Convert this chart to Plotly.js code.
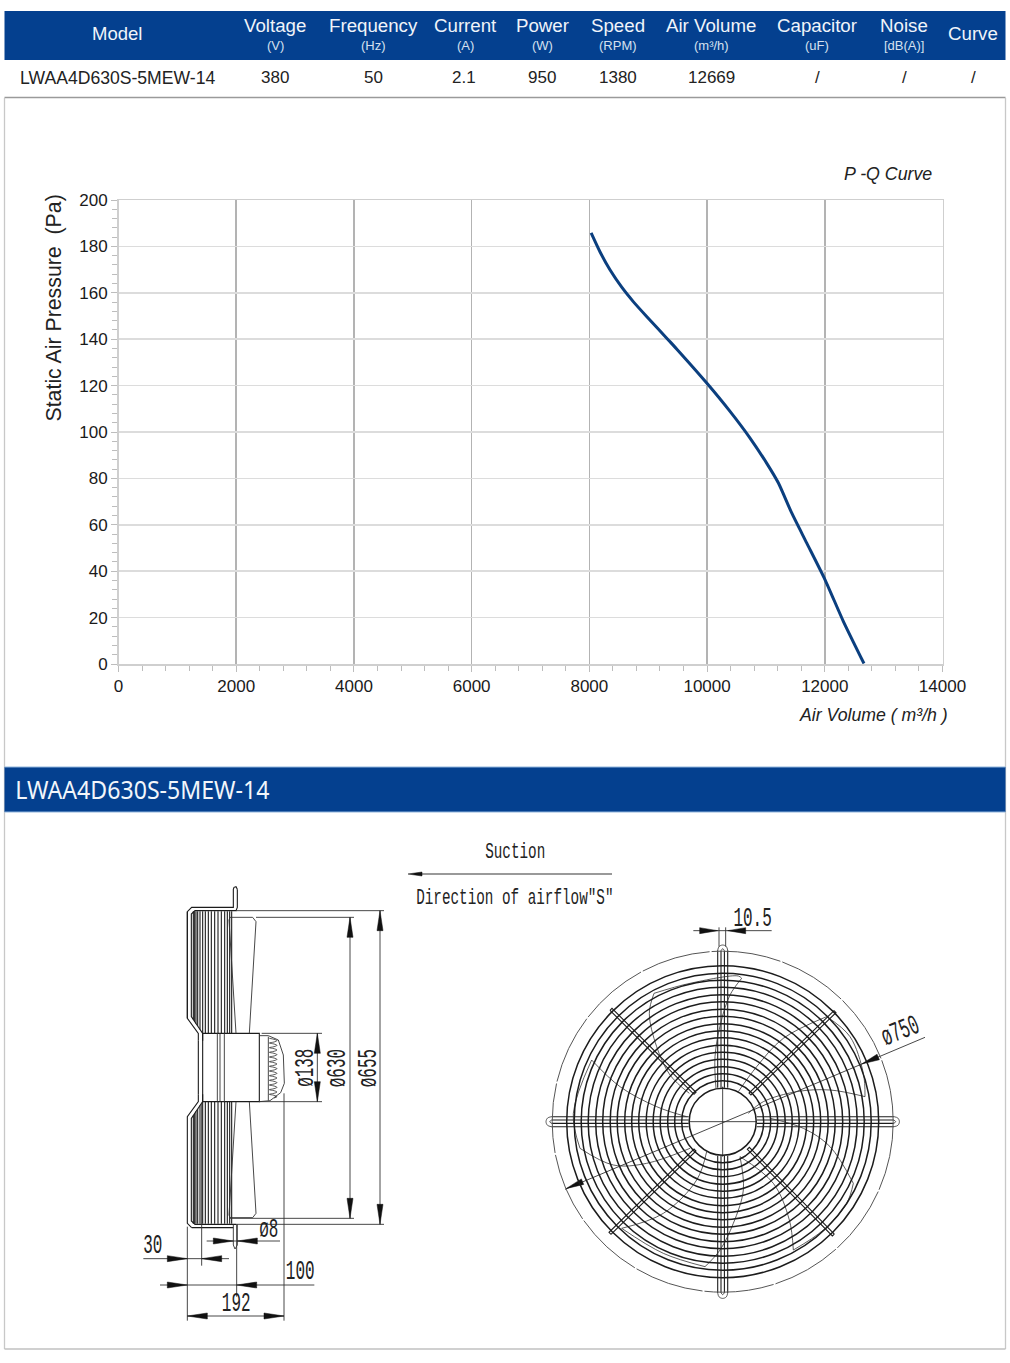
<!DOCTYPE html>
<html><head><meta charset="utf-8">
<script src="https://cdn.plot.ly/plotly-3.0.1.min.js"></script>
<style>html,body{margin:0;padding:0;background:#fff}#c{width:1010px;height:1363px}</style>
</head><body><div id="c"></div>
<script>
/* ---------- chart data ---------- */
var airVolume = [8030,8180,8350,8550,8746,8973,9342,9483,10005,10390,10730,11012,11212,11438,11692,12003,12315,12666];
var staticPressure = [185.8,177.7,169.9,162.4,156.2,149.8,139.7,135.8,120.8,108.9,97.4,86.6,78,65.1,52.2,36.4,18.4,0.2];
/* ---------- table ---------- */
var headNames = ['Voltage','Frequency','Current','Power','Speed','Air Volume','Capacitor','Noise'];
var headUnits = ['(V)','(Hz)','(A)','(W)','(RPM)','(m³/h)','(uF)','[dB(A)]'];
var headX = [275,373,465,542,618,711,817,904];
var rowModel = 'LWAA4D630S-5MEW-14';
var rowValues = ['380','50','2.1','950','1380','12669','/','/','/'];
var rowX = [275,373,464,542,618,711,817,904,973];
/* ---------- drawing geometry ---------- */
var ringRadii = [33.5,41,48,55,62.5,69.5,76.5,84,91,98,105.5,112.5,120,127,134.5,141.5,148.5,156];
var wireX = [190,194,198,203,210,218,226,235,244,254,264,274,284,292,299,305];
var bladeTips = [
 [[558,565],[555,470],[572,370],[600,285],[635,235]],
 [[635,235],[625,228],[480,250],[372,280]],
 [[372,280],[358,340],[380,440],[420,525],[478,580]],
 [[625,575],[680,500],[760,415],[890,350]],
 [[890,350],[960,410],[1000,520],[1005,590]],
 [[1005,590],[900,570],[800,575],[700,605],[655,640]],
 [[720,655],[820,685],[900,740],[970,850]],
 [[970,850],[950,910],[880,990],[790,1050]],
 [[790,1050],[778,960],[730,850],[630,770]],
 [[630,770],[640,870],[610,970],[570,1050],[525,1100]],
 [[525,1100],[400,1060],[275,985]],
 [[275,985],[400,940],[500,840],[530,755]],
 [[480,745],[350,790],[250,795],[150,745]],
 [[150,745],[130,640],[185,480]],
 [[185,480],[270,560],[380,620],[470,650]]
];
var NAVY='#04408f', INK='#1c1c1c';

var S=function(a){return [130+a[0]/3,870+a[1]/3];};   // side view
var F=function(a){return [530+a[0]/3,900+a[1]/3];};   // front view
var C=[722.7,1121.7];

var segs=[],thin=[],heads=[],spl=[],grey=[];
function add(list,pts){pts.forEach(function(p){list.push(p);});list.push([null,null]);}
function sl(list,arr){add(list,arr.map(S));}
function mir(arr){return arr.map(function(p){return [p[0],1185-p[1]];});}
function arrow(tip,dir,len,w){ // px
  var n=[-dir[1],dir[0]];
  var b=[tip[0]-dir[0]*len,tip[1]-dir[1]*len];
  add(heads,[tip,[b[0]+n[0]*w/2,b[1]+n[1]*w/2],[b[0]-n[0]*w/2,b[1]-n[1]*w/2],tip]);
}
/* side view */
var guardA=[[322,58],[318,50],[312,52],[310,58],[310,112],[185,112],[172,125],[172,445],[205,490],[205,512]];
var guardB=[[322,58],[322,112],[318,122],[195,122],[184,132],[184,440],[218,490],[218,512]];
var bladeSide=[[297,150],[300,142],[368,142],[378,155],[358,490]];
var bladeEdge=[[297,150],[318,490]];
[guardA,guardB].forEach(function(g){sl(segs,g);});
sl(segs,[[172,445],[172,125]]);
[bladeSide,bladeEdge].forEach(function(g){sl(thin,mir(g));sl(thin,g);});
sl(segs,mir([[185,112],[172,125],[172,445],[205,490],[205,512]]));
sl(segs,mir([[318,122],[195,122],[184,132],[184,440],[218,490],[218,512]]));
sl(segs,[[185,1073],[310,1073]]);
wireX.forEach(function(x){
  var b=x<218?Math.min(490,440+(x-184)*50/34):490;
  sl(segs,[[x,124],[x,b]]);
  sl(segs,[[x,1185-124],[x,1185-b]]);
});
sl(segs,[[205,512],[205,673]]);
/* hub */
[[218,490,388,695]].forEach(function(r){sl(segs,[[r[0],r[1]],[r[2],r[1]],[r[2],r[3]],[r[0],r[3]],[r[0],r[1]]]);});
[262,270,283].forEach(function(x){sl(thin,[[x,490],[x,695]]);});
/* cap */
sl(thin,[[388,497],[415,497],[445,510],[460,555],[463,640],[452,668],[420,692],[388,695]]);
sl(thin,[[415,500],[415,692]]);
var zig=[];[505,519,533,547,561,575,589,603,617,631,645,659,673].forEach(function(y){zig.push([418,y]);zig.push([432,y+3]);zig.push([441,y+7]);zig.push([432,y+11]);});
add(spl,zig.map(S));
/* dimensions, side */
var ext=[[[318,122],[762,122]],[[378,142],[672,142]],[[318,1063],[762,1063]],[[300,1045],[672,1045]],
 [[395,490],[576,490]],[[388,695],[576,695]],
 [[750,122],[750,1063]],[[660,142],[660,1045]],[[562,490],[562,695]],
 [[40,1166],[297,1166]],[[215,700],[215,1187]],[[172,1070],[172,1352]],
 [[230,1113],[450,1113]],[[90,1245],[553,1245]],[[320,1063],[320,1280]],[[462,670],[462,1352]],
 [[172,1338],[462,1338]],[[310,1063],[310,1125],[315,1137],[322,1125],[322,1063]]];
ext.forEach(function(e){sl(thin,e);});
[[[750,122],[0,-1]],[[750,1063],[0,1]],[[660,142],[0,-1]],[[660,1045],[0,1]],[[562,490],[0,-1]],[[562,695],[0,1]],
 [[172,1166],[1,0]],[[215,1166],[-1,0]],[[310,1113],[1,0]],[[322,1113],[-1,0]],
 [[172,1245],[1,0]],[[320,1245],[-1,0]],[[172,1338],[-1,0]],[[462,1338],[1,0]]
].forEach(function(a){arrow(S(a[0]),a[1],20,6);});
/* airflow arrow */
add(grey,[[612,874],[418,874]]);
arrow([408,874],[-1,0],14,4);
/* front view */
function rot(dx,dy,q){return [C[0]+(q==0?dx:q==1?-dy:q==2?-dx:dy),C[1]+(q==0?-dy:q==1?-dx:q==2?dy:dx)];}
[0,1,2,3].forEach(function(q){
  [[-5,171.4],[5,171.4],[-1.7,171],[1.7,171]].forEach(function(o){add(segs,[rot(o[0],34,q),rot(o[0],o[1],q)]);});
  add(spl,[[-5,171.4],[-3.6,175.2],[0,176.7],[3.6,175.2],[5,171.4]].map(function(p){return rot(p[0],p[1],q);}));
  add(spl,[[-1.7,171],[0,173],[1.7,171]].map(function(p){return rot(p[0],p[1],q);}));
});
[[[243,328],[495,580]],[[915,335],[660,582]],[[240,1000],[495,750]],[[910,1005],[655,745]]].forEach(function(d){
  var a=F(d[0]),b=F(d[1]),L=Math.hypot(b[0]-a[0],b[1]-a[1]),n=[-(b[1]-a[1])/L*1.4,(b[0]-a[0])/L*1.4];
  add(segs,[[a[0]+n[0],a[1]+n[1]],[b[0]+n[0],b[1]+n[1]],[b[0]-n[0],b[1]-n[1]],[a[0]-n[0],a[1]-n[1]],[a[0]+n[0],a[1]+n[1]]]);
});
bladeTips.forEach(function(b){add(spl,b.map(F));});
add(thin,[F([105,868]),F([1185,412])]);
add(thin,[F([490,92]),F([725,92])]);
add(thin,[F([567,82]),F([567,140])]);
add(thin,[F([587,82]),F([587,140])]);
add(thin,[F([578,560]),F([578,770])]);
add(thin,[F([478,665]),F([680,665])]);
arrow(F([995,492]),[-0.92,0.39],18,6);
arrow(F([108,866]),[-0.92,0.39],18,6);
arrow(F([563,92]),[1,0],18,6);
arrow(F([593,92]),[-1,0],18,6);

function tr(list,w,col,opt){
  var t={x:list.map(function(p){return p[0];}),y:list.map(function(p){return p[1];}),xaxis:'x2',yaxis:'y2',mode:'lines',
    line:{width:w,color:col},hoverinfo:'skip',showlegend:false};
  for(var k in opt||{}){t[k]=opt[k];}
  return t;
}
var traces=[
 tr(segs,1.1,INK),
 tr(thin,0.9,'#333'),
 tr(grey,1.4,'#777'),
 Object.assign(tr(spl,0.8,'#333'),{line:{width:0.8,color:'#333',shape:'spline',smoothing:1}}),
 tr(heads,0.5,'#111',{fill:'toself',fillcolor:'#111'}),
 {x:airVolume,y:staticPressure,mode:'lines',line:{color:'#0b3f7f',width:3,shape:'spline',smoothing:0.6},hoverinfo:'skip',showlegend:false}
];
/* shapes */
function rect(x0,y0,x1,y1,fill,lc,w){return {type:'rect',xref:'x2',yref:'y2',x0:x0,y0:y0,x1:x1,y1:y1,fillcolor:fill,line:{width:w||0,color:lc||fill},layer:'below'};}
function ln(x0,y0,x1,y1,c,w){return {type:'line',xref:'x2',yref:'y2',x0:x0,y0:y0,x1:x1,y1:y1,line:{color:c,width:w},layer:'below'};}
var shapes=[
 rect(4.5,11,1005.5,60,NAVY),
 ln(4.5,97.5,1005.5,97.5,'#9a9a9a',1.3),
 ln(4.5,98,4.5,1349,'#c8c8c8',1.3), ln(1005.5,98,1005.5,1349,'#c8c8c8',1.3), ln(4.5,1349,1005.5,1349,'#c0c0c0',1.5),
 rect(4.5,767,1005.5,812,NAVY),
 ln(4.5,767,1005.5,767,'#8fb4dc',1), ln(4.5,812,1005.5,812,'#8fb4dc',1)
];
ringRadii.forEach(function(r){
  shapes.push({type:'circle',xref:'x2',yref:'y2',x0:C[0]-r,x1:C[0]+r,y0:C[1]-r,y1:C[1]+r,line:{color:INK,width:1.5},layer:'above'});
});
shapes.push({type:'circle',xref:'x2',yref:'y2',x0:C[0]-170.5,x1:C[0]+170.5,y0:C[1]-170.5,y1:C[1]+170.5,line:{color:'#555',width:1,dash:'70px,2px'},layer:'above'});

/* text */
var ann=[],squeeze=[];
function T(txt,x,y,size,col,opt,sq){
  var a={text:txt,x:x,y:y,xref:'x2',yref:'y2',showarrow:false,xanchor:'center',yanchor:'middle',
    font:{family:(opt&&opt.fam)||'Liberation Sans',size:size,color:col}};
  if(opt&&opt.ang!=null)a.textangle=opt.ang;
  ann.push(a);squeeze.push(sq||1);
}
var W='#f0f4fa',D='#222222';
T('Model',117,33.5,18.5,W);
headNames.forEach(function(n,i){T(n,headX[i],25,18.7,W);T(headUnits[i],headX[i],45.5,13,'#d5e0ef');});
T('Curve',973,33.5,18.7,W);
T(rowModel,117,77.5,17.6,D);
rowValues.forEach(function(v,i){T(v,rowX[i],77.5,17,D);});
T('<i>P -Q Curve</i>',887.5,174,17.8,D);
T('<i>Air Volume ( m³/h )</i>',873.5,715,17.7,D);
T('Static Air Pressure  (Pa)',53,308.5,21.3,D,{ang:-90});
T(rowModel,142.5,789,25,'#f2f6fb',{fam:'Noto Sans'},0.925);
var M={fam:'Liberation Mono'};
T('Suction',515,852,22,D,M,0.65);
T('Direction of airflow"S"',515,898,22,D,M,0.65);
var sz=28,q=0.57;
function SVt(t,zx,zy,ang){var p=S([zx,zy]);T(t,p[0],p[1],sz,D,{fam:'Liberation Mono',ang:ang},q);}
SVt('ø138',525,595,-90);SVt('ø630',622,595,-90);SVt('ø655',715,595,-90);
SVt('30',68,1127);SVt('ø8',417,1077);SVt('100',510,1205);SVt('192',317,1300);
(function(){var p=F([668,55]);T('10.5',p[0],p[1],sz,D,M,q);p=F([1112,395]);T('ø750',p[0],p[1],sz,D,{fam:'Liberation Mono',ang:-22},q);})();

var GRID_V='#b3b3b3',GRID_H='#dcdcdc',TK='#bdbdbd';
var layout={
 width:1010,height:1363,margin:{l:0,r:0,t:0,b:0},paper_bgcolor:'#fff',plot_bgcolor:'rgba(0,0,0,0)',showlegend:false,
 font:{family:'Liberation Sans',color:'#222'},
 xaxis:{domain:[118.5/1010,942.5/1010],range:[0,14000],dtick:2000,tick0:0,tickformat:'d',showgrid:true,gridcolor:GRID_V,gridwidth:1.5,zeroline:false,
   showline:true,mirror:true,linecolor:'#cfcfcf',linewidth:1.5,ticks:'outside',ticklen:6,tickcolor:TK,tickwidth:1,
   tickfont:{size:17,color:'#1a1a1a',family:'Liberation Sans'},
   minor:{dtick:400,ticks:'outside',ticklen:5,tickcolor:TK,tickwidth:1,showgrid:false},fixedrange:true},
 yaxis:{domain:[1-664/1363,1-200/1363],range:[0,200],dtick:20,tick0:0,showgrid:true,gridcolor:GRID_H,gridwidth:1.5,zeroline:false,
   showline:true,mirror:true,linecolor:'#cfcfcf',linewidth:1.5,ticks:'outside',ticklen:6,tickcolor:TK,tickwidth:1,
   tickfont:{size:17,color:'#1a1a1a',family:'Liberation Sans'},
   minor:{dtick:4,ticks:'outside',ticklen:5,tickcolor:TK,tickwidth:1,showgrid:false},fixedrange:true},
 xaxis2:{domain:[0,1],range:[0,1010],visible:false,anchor:'y2',fixedrange:true},
 yaxis2:{domain:[0,1],range:[1363,0],visible:false,anchor:'x2',fixedrange:true},
 shapes:shapes,annotations:ann
};
Plotly.newPlot('c',traces,layout,{staticPlot:true,displayModeBar:false}).then(function(){
  document.querySelectorAll('#c .annotation').forEach(function(g){
    var i=+g.getAttribute('data-index'),s=squeeze[i];
    if(s&&s!==1){var t=g.querySelector('text');if(t){t.style.transformBox='fill-box';t.style.transformOrigin='center';t.style.transform='scaleX('+s+')';}}
  });
});
</script></body></html>
